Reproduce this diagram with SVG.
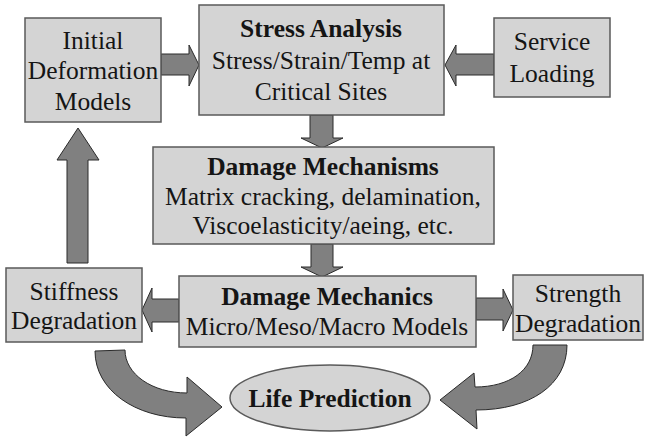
<svg xmlns="http://www.w3.org/2000/svg" width="645" height="440" viewBox="0 0 645 440">
<style>
.box{fill:#d4d4d4;stroke:#5a5a5a;stroke-width:1.5}
.arr{fill:#808080;stroke:#2a2a2a;stroke-width:1}
text{font-family:"Liberation Serif","Times New Roman",serif;font-size:25.5px;fill:#151515;text-anchor:middle}
.b{font-weight:bold}
</style>
<rect width="645" height="440" fill="#fff"/>
<g id="connectors">
<path class="arr" d="M161,54 H189 V45 L199,65 L189,86 V75 H161 Z"/>
<path class="arr" d="M494,54 H456 V45 L445,65 L456,86 V75 H494 Z"/>
<path class="arr" d="M310,115 V138 H301 L322,148 L343,138 H333 V115 Z"/>
<path class="arr" d="M311,244 V267 H301 L322,277 L343,267 H333 V244 Z"/>
<path class="arr" d="M67,263 V160 H57 L78,128 L99,160 H88 V263 Z"/>
<path class="arr" d="M179,299 H152 V288 L142,310 L152,332 V322 H179 Z"/>
<path class="arr" d="M476,298 H503 V289 L513,310 L503,331 V320 H476 Z"/>
<path class="arr" d="M95,351 C95,390 135,418 186,418 L186,436 L222,407 L187,377 L187,393 C152,393 125,374 125,350 Z"/>
<path class="arr" d="M567,345 C567,385 530,410 476,410 L477,429 L440,400 L474,373 L475,387 C510,387 533,370 533,345 Z"/>
</g>
<g id="initial">
<rect class="box" x="25" y="18" width="136" height="104"/>
<text x="93" y="49">Initial</text>
<text x="93" y="79">Deformation</text>
<text x="93" y="110">Models</text>
</g>
<g id="stress">
<rect class="box" x="199" y="5" width="245" height="110"/>
<text class="b" x="321" y="37">Stress Analysis</text>
<text x="321" y="69">Stress/Strain/Temp at</text>
<text x="321" y="100">Critical Sites</text>
</g>
<g id="service">
<rect class="box" x="494" y="18" width="116" height="79"/>
<text x="552" y="50">Service</text>
<text x="552" y="82">Loading</text>
</g>
<g id="mechanisms">
<rect class="box" x="153" y="147" width="341" height="97"/>
<text class="b" x="323" y="175">Damage Mechanisms</text>
<text x="323" y="205">Matrix cracking, delamination,</text>
<text x="323" y="234">Viscoelasticity/aeing, etc.</text>
</g>
<g id="stiffness">
<rect class="box" x="6" y="268" width="136" height="74"/>
<text x="74" y="300">Stiffness</text>
<text x="74" y="329">Degradation</text>
</g>
<g id="mechanics">
<rect class="box" x="179" y="276" width="297" height="71"/>
<text class="b" x="327" y="305">Damage Mechanics</text>
<text x="327" y="335">Micro/Meso/Macro Models</text>
</g>
<g id="strength">
<rect class="box" x="513" y="275" width="130" height="65"/>
<text x="578" y="302">Strength</text>
<text x="578" y="332">Degradation</text>
</g>
<g id="life">
<ellipse class="box" cx="330" cy="398" rx="100" ry="33"/>
<text class="b" x="330" y="407">Life Prediction</text>
</g>
</svg>
